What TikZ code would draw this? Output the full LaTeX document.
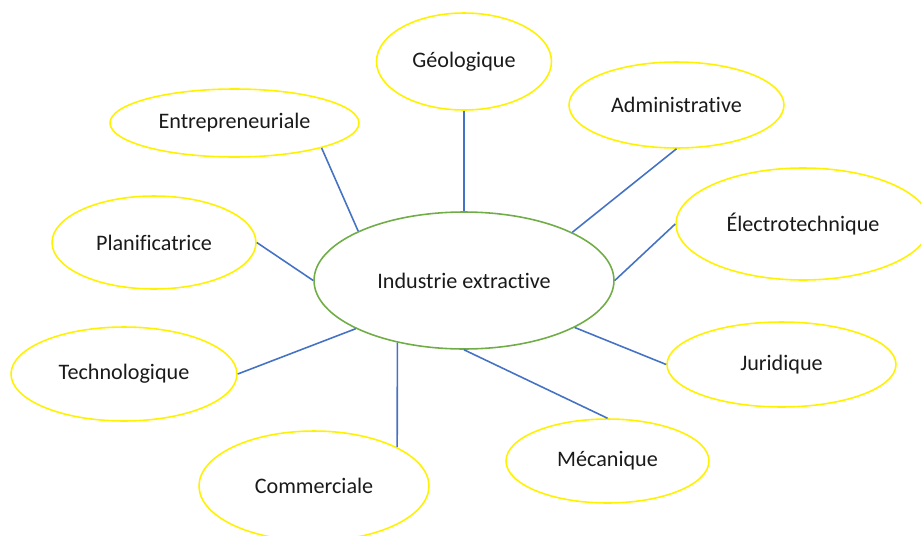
\documentclass[tikz,border=0pt]{standalone}
\usepackage{fontspec}
\setmainfont{Carlito}[Ligatures=NoCommon]
\usetikzlibrary{shapes.geometric}
\definecolor{ybord}{HTML}{FFF200}
\definecolor{cgreen}{HTML}{70AD47}
\definecolor{lblue}{HTML}{4472C4}
\definecolor{txt}{HTML}{1A1A1A}
\begin{document}
\begin{tikzpicture}[x=0.02cm,y=-0.02cm,
  bubble/.style={ellipse, draw=ybord, line width=0.9pt, inner sep=0pt,
    font=\fontsize{12.6}{15}\selectfont, text=txt},
  link/.style={draw=lblue, line width=0.9pt}]
\useasboundingbox (0,0) rectangle (921,535);
\node[bubble, draw=cgreen, minimum width=6cm, minimum height=2.74cm] (ind) at (464,280.5) {Industrie extractive};
\node[bubble, minimum width=3.5cm, minimum height=1.94cm] (geo) at (464,61.5) {Géologique};
\node[bubble, minimum width=4.3cm, minimum height=1.72cm] (adm) at (676.5,105) {Administrative};
\node[bubble, minimum width=5.08cm, minimum height=2.24cm] (ele) at (803,224) {Électrotechnique};
\node[bubble, minimum width=4.58cm, minimum height=1.7cm] (jur) at (781.5,364.5) {Juridique};
\node[bubble, minimum width=4.06cm, minimum height=1.68cm] (mec) at (607.5,461) {Mécanique};
\node[bubble, minimum width=4.6cm, minimum height=2.2cm] (com) at (314,486) {Commerciale};
\node[bubble, minimum width=4.52cm, minimum height=1.88cm] (tec) at (124,374) {Technologique};
\node[bubble, minimum width=4.08cm, minimum height=1.86cm] (pla) at (154,242.5) {Planificatrice};
\node[bubble, minimum width=4.98cm, minimum height=1.36cm] (ent) at (234.5,123) {Entrepreneuriale};
\draw[link] (geo.south) -- (ind.north);
\draw[link] (adm.south) -- (ind.24.4);
\draw[link] (ele.west) -- (ind.east);
\draw[link] (jur.west) -- (ind.-23.9);
\draw[link] (mec.north) -- (ind.south);
\draw[link] (com.25.4) -- (ind.223.4);
\draw[link] (tec.east) -- (ind.204);
\draw[link] (pla.east) -- (ind.west);
\draw[link] (ent.-16) -- (ind.155.6);
\end{tikzpicture}
\end{document}
